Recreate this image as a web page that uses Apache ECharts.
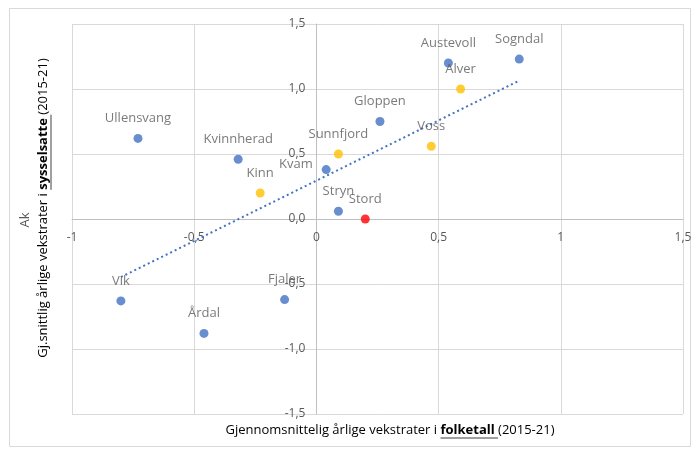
<!DOCTYPE html>
<html>
<head>
<meta charset="utf-8">
<script src="https://cdn.jsdelivr.net/npm/echarts@6/dist/echarts.min.js"></script>
<style>
  html, body { margin: 0; padding: 0; background: #fff; }
  #chart { width: 695px; height: 450px; }
</style>
</head>
<body>
<div id="chart"></div>
<script>
// kommuner og vekstrater lest av figuren
var kommuner = ['Sogndal', 'Austevoll', 'Alver', 'Gloppen', 'Voss', 'Sunnfjord', 'Kvam', 'Kvinnherad',
                'Kinn', 'Ullensvang', 'Stryn', 'Stord', 'Vik', 'Årdal', 'Fjaler'];
var folketall = [0.83, 0.54, 0.59, 0.26, 0.47, 0.09, 0.04, -0.32, -0.23, -0.73, 0.09, 0.20, -0.80, -0.46, -0.13];
var sysselsatte = [1.23, 1.20, 1.00, 0.75, 0.56, 0.50, 0.38, 0.46, 0.20, 0.62, 0.06, 0.00, -0.63, -0.88, -0.62];
var gruppe = ['b', 'b', 'g', 'b', 'g', 'g', 'b', 'b', 'g', 'b', 'b', 'r', 'b', 'b', 'b'];

var farger = { b: '#4472C4', g: '#FFC000', r: '#FF0000' };
var grå = '#595959';
var font = 'Open Sans';

// plottområdet
var gL = 72, gR = 12, gT = 24, gB = 36, W = 695, H = 450;
var xMin = -1, xMax = 1.5, yMin = -1.5, yMax = 1.5;
// aksene krysser i null
var nullX = gL + (0 - xMin) / (xMax - xMin) * (W - gL - gR);
var nullY = gT + (yMax - 0) / (yMax - yMin) * (H - gT - gB);

// lineær trendlinje (minste kvadrat)
var n = folketall.length, mx = 0, my = 0;
for (var i = 0; i < n; i++) { mx += folketall[i]; my += sysselsatte[i]; }
mx /= n; my /= n;
var sxy = 0, sxx = 0;
for (var i = 0; i < n; i++) {
  sxy += (folketall[i] - mx) * (sysselsatte[i] - my);
  sxx += (folketall[i] - mx) * (folketall[i] - mx);
}
var stigning = sxy / sxx, konst = my - stigning * mx;
var fmin = Math.min.apply(null, folketall), fmax = Math.max.apply(null, folketall);
var trend = [[fmin, konst + stigning * fmin], [fmax, konst + stigning * fmax]];

var punkter = kommuner.map(function (k, i) {
  var p = {
    name: k,
    value: [folketall[i], sysselsatte[i]],
    itemStyle: { color: farger[gruppe[i]] }
  };
  if (k === 'Kvam') {
    p.label = { position: 'left', distance: 9, offset: [0, -5] };
  }
  return p;
});

function komma(v, des) {
  return (des ? v.toFixed(des) : String(v)).replace('.', ',');
}

function bredde(str, f) {
  var c = document.createElement('canvas').getContext('2d');
  c.font = f;
  return c.measureText(str).width;
}

// aksetitler
var xa = 'Gjennomsnittelig årlige vekstrater i ', xb = 'folketall ', xc = '(2015-21)';
var ya = 'Gj.snittlig årlige vekstrater i ', yb = 'sysselsatte ', yc = '(2015-21)';
var fN = '13px "Open Sans"', fB = 'bold 13px "Open Sans"';
var xW = [bredde(xa, fN), bredde(xb, fB), bredde(xc, fN)];
var yW = [bredde(ya, fN), bredde(yb, fB), bredde(yc, fN)];
var xCx = 390, xCy = 430, yCx = 43, yCy = 208;
var xLeft = xCx - (xW[0] + xW[1] + xW[2]) / 2;
var yBottom = yCy + (yW[0] + yW[1] + yW[2]) / 2;

var rich = {
  n: { fontFamily: font, fontSize: 13, color: grå },
  b: { fontFamily: font, fontSize: 13, color: '#404040', fontWeight: 'bold' }
};

var myChart = echarts.init(document.getElementById('chart'));
var option = {
  animation: false,
  grid: { left: gL, right: gR, top: gT, bottom: gB },
  xAxis: {
    type: 'value', min: xMin, max: xMax, interval: 0.5,
    offset: -(H - gB - nullY),
    axisLine: { onZero: false, lineStyle: { color: '#BFBFBF' } },
    axisTick: { show: false },
    axisLabel: {
      margin: 13, color: grå, fontFamily: font, fontSize: 12,
      formatter: function (v) { return komma(v); }
    },
    splitLine: { show: true, lineStyle: { color: '#D9D9D9' } }
  },
  yAxis: {
    type: 'value', min: yMin, max: yMax, interval: 0.5,
    offset: -(nullX - gL),
    axisLine: { onZero: false, lineStyle: { color: '#BFBFBF' } },
    axisTick: { show: false },
    axisLabel: {
      margin: 11, color: grå, fontFamily: font, fontSize: 12,
      formatter: function (v) { return komma(v, 1); }
    },
    splitLine: { show: true, lineStyle: { color: '#D9D9D9' } }
  },
  graphic: [
    { type: 'rect', shape: { x: 9.5, y: 8.5, width: 681, height: 438 },
      style: { fill: 'none', stroke: '#D9D9D9', lineWidth: 1 }, silent: true },
    { type: 'text', x: xLeft, y: xCy,
      style: { text: '{n|' + xa + '}{b|' + xb + '}{n|' + xc + '}', rich: rich,
               align: 'left', verticalAlign: 'middle' } },
    { type: 'line', shape: { x1: xLeft + xW[0], y1: xCy + 8, x2: xLeft + xW[0] + xW[1], y2: xCy + 8 },
      style: { stroke: '#404040', lineWidth: 1 } },
    { type: 'text', x: 25, y: 220, rotation: Math.PI / 2,
      style: { text: 'Ak', fill: grå, font: fN, align: 'center', verticalAlign: 'middle' } },
    { type: 'text', x: yCx, y: yBottom, rotation: Math.PI / 2,
      style: { text: '{n|' + ya + '}{b|' + yb + '}{n|' + yc + '}', rich: rich,
               align: 'left', verticalAlign: 'middle' } },
    { type: 'line', shape: { x1: yCx + 8, y1: yBottom - yW[0], x2: yCx + 8, y2: yBottom - yW[0] - yW[1] },
      style: { stroke: '#404040', lineWidth: 1 } }
  ],
  series: [
    {
      name: 'Trend',
      type: 'line',
      data: trend,
      symbol: 'none',
      silent: true,
      z: 1,
      lineStyle: { color: '#4472C4', width: 2, type: [2, 3] }
    },
    {
      name: 'Kommuner',
      type: 'scatter',
      symbolSize: 9,
      z: 3,
      data: punkter,
      label: {
        show: true, position: 'top', distance: 9,
        formatter: '{b}', color: grå, fontFamily: font, fontSize: 13
      }
    }
  ]
};
myChart.setOption(option);
</script>
</body>
</html>
